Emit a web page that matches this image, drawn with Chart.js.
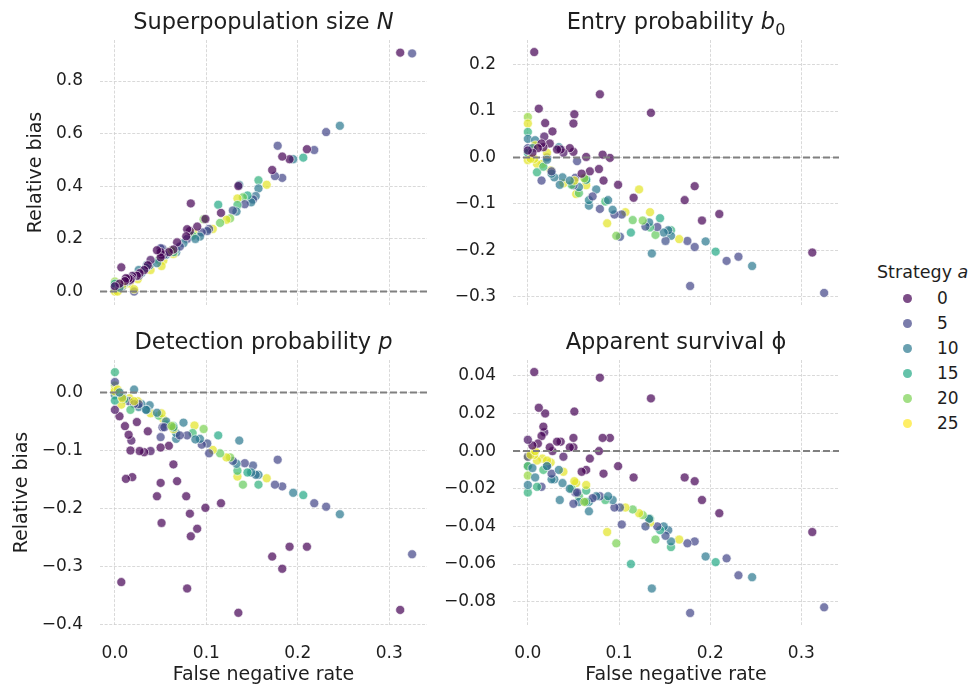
<!DOCTYPE html>
<html>
<head>
<meta charset="utf-8">
<script src="https://cdn.jsdelivr.net/npm/chart.js@4.4.0/dist/chart.umd.min.js"></script>
<style>
  body { margin: 0; background: #fff; font-family: 'DejaVu Sans', sans-serif; color: #1e1e1e; }
  #fig { position: relative; width: 972px; height: 687px; overflow: hidden; }
  .box { position: absolute; }
  .ttl { position: absolute; font-size: 22.5px; line-height: 26px; text-align: center; white-space: nowrap; }
  .leg { position: absolute; white-space: nowrap; }
</style>
</head>
<body>
<div id="fig">
  <div class="box" style="left:0;top:30px;width:440px;height:290px"><canvas id="c0" width="440" height="290"></canvas></div>
  <div class="box" style="left:440px;top:30px;width:420px;height:290px"><canvas id="c1" width="420" height="290"></canvas></div>
  <div class="box" style="left:0;top:350px;width:440px;height:337px"><canvas id="c2" width="440" height="337"></canvas></div>
  <div class="box" style="left:440px;top:350px;width:420px;height:337px"><canvas id="c3" width="420" height="337"></canvas></div>

  <div class="ttl" style="left:100px;top:8px;width:327px">Superpopulation size <i>N</i></div>
  <div class="ttl" style="left:513px;top:8px;width:326px">Entry probability <i>b</i><sub style="font-size:16px;line-height:0">0</sub></div>
  <div class="ttl" style="left:100px;top:328px;width:327px">Detection probability <i>p</i></div>
  <div class="ttl" style="left:513px;top:328px;width:326px">Apparent survival ϕ</div>

  <div id="legend"></div>
</div>
<script>
// strategy a of each simulated run, its false negative rate, and the relative bias of each estimate
const strategy = [
  5, 10, 5, 5, 15, 10, 5, 5, 5, 24,
  16, 10, 9, 6, 10, 15, 19, 5, 10, 24,
  17, 10, 6, 20, 24, 15, 19, 24, 5, 6,
  20, 24, 5, 10, 17, 5, 10, 10, 10, 11,
  5, 16, 24, 24, 18, 10, 5, 5, 18, 24,
  24, 10, 10, 10, 10, 24, 10, 5, 24, 24,
  5, 16, 24, 21, 24, 16, 10, 24, 5, 15,
  24, 10, 24, 5, 24, 10, 10, 17, 10, 5,
  13, 21,
  0, 0, 0, 0, 0, 0, 0, 0, 0, 0,
  0, 0, 0, 0, 0, 0, 0, 0, 0, 0,
  1, 0, 0, 0, 0, 0, 1, 0, 0, 0,
  0, 0, 0, 1
];
const falseNegRate = [
  .325, .246, .231, .218, .206, .195, .183, .175, .178, .166,
  .157, .157, .154, .151, .149, .145, .140, .142, .136, .134,
  .134, .133, .129, .126, .122, .113, .115, .107, .103, .101,
  .097, .087, .095, .093, .085, .079, .088, .075, .067, .067,
  .071, .064, .064, .053, .056, .056, .052, .050, .048, .051,
  .039, .038, .035, .046, .029, .025, .026, .026, .016, .010,
  .015, .010, .007, 0, 0, 0, 0, 0, 0, 0,
  .003, .008, .008, .021, .021, .005, .034, .017, .021, .054,
  .064, .062,
  .312, .210, .191, .183, .172, .135, .116, .099, .090, .083,
  .082, .079, .078, .068, .064, .059, .051, .050, .050, .046,
  .039, .036, .032, .027, .024, .019, .018, .017, .015, .012,
  .011, .007, .005, 0
];
const biasN = [
  .905, .630, .606, .538, .509, .503, .432, .439, .554, .406,
  .423, .392, .363, .350, .339, .365, .358, .332, .405, .354,
  .329, .304, .308, .278, .273, .330, .261, .238, .238, .230,
  .275, .222, .225, .209, .212, .200, .200, .184, .149, .160,
  .171, .156, .143, .118, .150, .140, .163, .165, .120, .097,
  .082, .100, .101, .108, .070, .047, .082, .060, .030, .025,
  .040, .030, .032, .038, .013, .020, .010, .000, .020, .030,
  .000, .020, .025, .000, .009, .015, .090, .050, .060, .140,
  .150, .156,
  .908, .541, .503, .513, .462, .401, .299, .276, .247, .335,
  .230, .237, .210, .187, .160, .150, .140, .150, .130, .157,
  .120, .100, .082, .070, .060, .059, .050, .045, .050, .051,
  .040, .092, .030, .020
];
const biasB0 = [
  -.292, -.234, -.214, -.223, -.203, -.181, -.193, -.180, -.277, -.176,
  -.157, -.169, -.157, -.180, -.162, -.131, -.167, -.150, -.207, -.118,
  -.151, -.140, -.149, -.136, -.069, -.162, -.135, -.118, -.123, -.171,
  -.169, -.142, -.123, -.113, -.095, -.111, -.092, -.069, -.104, -.092,
  -.084, -.048, -.060, -.079, -.077, -.064, -.044, -.060, -.059, -.050,
  -.056, -.043, -.059, -.050, -.043, -.028, -.035, -.030, -.014, -.014,
  -.050, -.032, -.003, .087, .073, .055, .040, -.006, .020, .010,
  -.003, .037, .026, .000, .010, .020, .022, -.020, -.005, -.008,
  -.048, -.045,
  -.205, -.122, -.136, -.062, -.092, .096, -.087, -.059, -.001, -.050,
  .006, .136, -.025, -.030, .001, -.035, .093, .073, .012, .020,
  .010, .017, .017, .056, .030, .074, .045, .022, .030, .105,
  .020, .227, .010, .015
];
const biasP = [
  -.279, -.210, -.197, -.191, -.177, -.173, -.162, -.159, -.116, -.148,
  -.159, -.142, -.142, -.126, -.138, -.138, -.159, -.122, -.083, -.145,
  -.135, -.123, -.118, -.112, -.112, -.074, -.105, -.099, -.105, -.088,
  -.063, -.057, -.090, -.080, -.070, -.074, -.081, -.052, -.080, -.070,
  -.074, -.058, -.063, -.046, -.055, -.050, -.060, -.077, -.040, -.036,
  -.036, -.022, -.030, -.035, -.020, -.015, -.025, -.020, -.010, -.011,
  -.015, -.012, -.021, .012, .005, .035, -.005, .002, .018, -.014,
  .005, -.008, -.010, -.020, -.015, .000, -.030, -.030, .005, -.060,
  -.060, -.058,
  -.375, -.266, -.266, -.304, -.283, -.380, -.191, -.199, -.235, -.248,
  -.209, -.338, -.179, -.153, -.124, -.092, -.225, -.156, -.095, -.179,
  -.101, -.067, -.103, -.101, -.051, -.146, -.083, -.100, -.073, -.149,
  -.058, -.327, -.041, -.030
];
const biasPhi = [
  -.083, -.067, -.066, -.057, -.059, -.056, -.048, -.049, -.086, -.047,
  -.051, -.048, -.042, -.045, -.040, -.042, -.047, -.040, -.073, -.038,
  -.036, -.036, -.040, -.034, -.033, -.060, -.031, -.030, -.039, -.030,
  -.049, -.043, -.030, -.026, -.026, -.024, -.024, -.024, -.032, -.027,
  -.025, -.021, -.018, -.017, -.024, -.027, -.022, -.028, -.020, -.016,
  -.011, -.017, -.026, -.020, -.015, -.006, -.015, -.012, -.004, -.005,
  -.019, -.019, -.002, -.013, -.008, -.022, -.018, -.003, -.003, -.008,
  -.002, -.014, .000, -.008, -.005, -.009, -.010, -.010, -.008, -.022,
  -.027, -.027,
  -.043, -.033, -.026, -.016, -.014, .028, -.014, -.008, .007, -.012,
  .007, .039, .000, -.004, -.010, -.011, .021, .007, .002, .002,
  -.003, .005, .005, .000, .002, .020, .010, .013, .008, .023,
  .004, .042, .003, .006
];

const xTicks = [0, 0.1, 0.2, 0.3];
const yTicksN = [0, 0.2, 0.4, 0.6, 0.8];
const yTicksB0 = [-0.3, -0.2, -0.1, 0, 0.1, 0.2];
const yTicksP = [-0.4, -0.3, -0.2, -0.1, 0];
const yTicksPhi = [-0.08, -0.06, -0.04, -0.02, 0, 0.02, 0.04];
const legendLevels = [0, 5, 10, 15, 20, 25];

// viridis, hue norm 0..25
const VIR = ['#440154','#482475','#414487','#355f8d','#2a788e','#21918c','#22a884','#44bf70','#7ad151','#bddf26','#fde725'];
function viridis(a, alpha) {
  const t = Math.min(1, Math.max(0, a / 25)) * 10;
  const i = Math.min(9, Math.floor(t)), f = t - i;
  const c0 = VIR[i], c1 = VIR[i + 1];
  const ch = k => Math.round(parseInt(c0.substr(k, 2), 16) * (1 - f) + parseInt(c1.substr(k, 2), 16) * f);
  return `rgba(${ch(1)},${ch(3)},${ch(5)},${alpha})`;
}
const fmt = (v, d) => (v < 0 ? '\u2212' : '') + Math.abs(v).toFixed(d);

const zeroLine = {
  id: 'zeroLine',
  afterDatasetsDraw(chart) {
    const { ctx, chartArea: a, scales: { y } } = chart;
    const py = y.getPixelForValue(0);
    ctx.save();
    ctx.strokeStyle = '#808080';
    ctx.lineWidth = 2;
    ctx.setLineDash([7, 3]);
    ctx.beginPath();
    ctx.moveTo(a.left, py);
    ctx.lineTo(a.right, py);
    ctx.stroke();
    ctx.restore();
  }
};

const panels = [
  { id: 'c0', vals: biasN, ticks: yTicksN, min: -0.051, max: 0.956, dec: 1, left: true, bottom: false },
  { id: 'c1', vals: biasB0, ticks: yTicksB0, min: -0.318, max: 0.253, dec: 1, left: false, bottom: false },
  { id: 'c2', vals: biasP, ticks: yTicksP, min: -0.401, max: 0.056, dec: 1, left: true, bottom: true },
  { id: 'c3', vals: biasPhi, ticks: yTicksPhi, min: -0.0924, max: 0.0484, dec: 2, left: false, bottom: true }
];

const ink = '#1e1e1e';
const tickFont = { family: 'DejaVu Sans', size: 17 };
const labelFont = { family: 'DejaVu Sans', size: 19 };

// keep the plot areas where the reference has them: no automatic label padding
function noPad(s) { s.paddingTop = 0; s.paddingBottom = 0; s.paddingLeft = 0; s.paddingRight = 0; }

panels.forEach(pn => {
  const yPadLeft = pn.left ? (pn.bottom ? 7 : 21) : 0;
  const yWidth = (pn.left ? 100 : 73) - yPadLeft;
  new Chart(document.getElementById(pn.id), {
    type: 'scatter',
    data: {
      datasets: [{
        data: falseNegRate.map((x, i) => ({ x: x, y: pn.vals[i] })),
        pointBackgroundColor: strategy.map(a => viridis(a, 0.7)),
        pointBorderColor: 'rgba(255,255,255,0.75)',
        pointBorderWidth: 0.8,
        pointRadius: 4.5
      }]
    },
    options: {
      responsive: false,
      animation: false,
      events: [],
      layout: { padding: { left: yPadLeft, top: 10, right: pn.left ? 13 : 21, bottom: pn.bottom ? 1 : 15 } },
      plugins: { legend: { display: false }, tooltip: { enabled: false } },
      scales: {
        x: {
          type: 'linear',
          min: -0.0163,
          max: 0.3413,
          afterBuildTicks: s => { s.ticks = xTicks.map(v => ({ value: v })); },
          afterFit: s => { s.height = pn.bottom ? 61 : 0; noPad(s); },
          grid: { color: '#cfcfcf', lineWidth: 0.8, drawTicks: false },
          border: { display: false, dash: [3, 1.6] },
          ticks: { display: pn.bottom, font: tickFont, color: ink, padding: 18, maxRotation: 0,
                   callback: v => fmt(v, 1) },
          title: { display: pn.bottom, text: 'False negative rate', font: labelFont, color: ink,
                   padding: { top: 4, bottom: 0 } }
        },
        y: {
          min: pn.min,
          max: pn.max,
          afterBuildTicks: s => { s.ticks = pn.ticks.map(v => ({ value: v })); },
          afterFit: s => { s.width = yWidth; noPad(s); },
          grid: { color: '#cfcfcf', lineWidth: 0.8, drawTicks: false },
          border: { display: false, dash: [3, 1.6] },
          ticks: { font: tickFont, color: ink, padding: 17, callback: v => fmt(v, pn.dec) },
          title: { display: pn.left, text: 'Relative bias', font: labelFont, color: ink,
                   padding: { top: 4, bottom: 4 } }
        }
      }
    },
    plugins: [zeroLine]
  });
});

// shared legend
const leg = document.getElementById('legend');
let html = '<div class="leg" style="left:877px;top:262px;font-size:17.5px;line-height:20px">Strategy <i>a</i></div>';
legendLevels.forEach((lv, i) => {
  const cy = 298 + i * 25;
  html += `<div class="leg" style="left:902.5px;top:${cy - 4.5}px;width:9px;height:9px;border-radius:50%;background:${viridis(lv, 0.7)}"></div>`;
  html += `<div class="leg" style="left:937px;top:${cy - 12.5}px;font-size:17px;line-height:25px">${lv}</div>`;
});
leg.innerHTML = html;
</script>
</body>
</html>
